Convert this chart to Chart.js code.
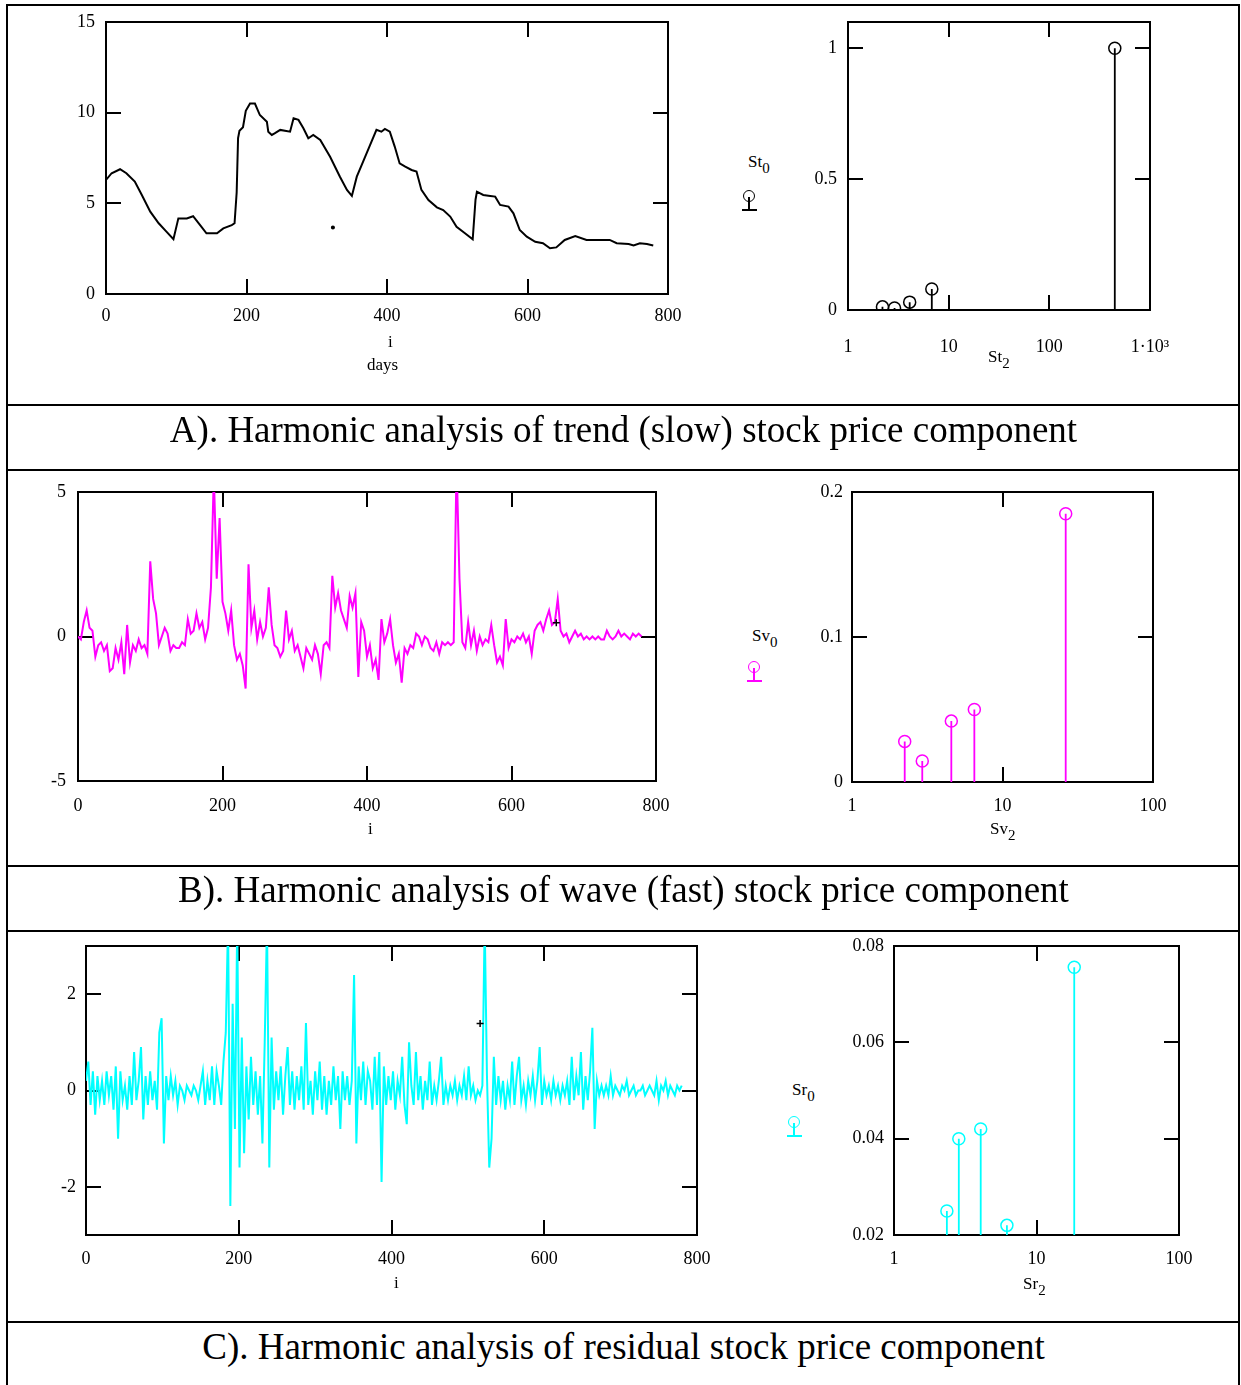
<!DOCTYPE html>
<html>
<head>
<meta charset="utf-8">
<script src="https://cdn.jsdelivr.net/npm/chart.js@4.4.1/dist/chart.umd.min.js"></script>
<style>
  body { margin:0; background:#fff; width:1241px; height:1385px; position:relative; overflow:hidden; font-family:"Liberation Serif", serif; color:#000; }
  .ln { position:absolute; background:#000; }
  .box { position:absolute; }
  .lab { position:absolute; font-size:17px; line-height:1; white-space:nowrap; }
  .lab sub { font-size:15px; vertical-align:-6px; line-height:0; }
  .cap { position:absolute; left:7px; width:1233px; text-align:center; font-size:37px; line-height:1; white-space:nowrap; }
  .sym { position:absolute; width:17px; height:22px; }
  .sym .c { position:absolute; left:1px; top:0; width:10px; height:10px; border:1.5px solid; border-radius:50%; }
  .sym .s { position:absolute; left:6px; top:7px; width:1.6px; height:12px; }
  .sym .b { position:absolute; left:0; top:19px; width:15px; height:1.6px; }
</style>
</head>
<body>
<!-- table rules -->
<div class="ln" style="left:7px;top:4px;width:1233px;height:2px"></div>
<div class="ln" style="left:6px;top:4px;width:2px;height:1381px"></div>
<div class="ln" style="left:1238px;top:4px;width:2px;height:1381px"></div>
<div class="ln" style="left:7px;top:404px;width:1233px;height:2px"></div>
<div class="ln" style="left:7px;top:469px;width:1233px;height:2px"></div>
<div class="ln" style="left:7px;top:865px;width:1233px;height:2px"></div>
<div class="ln" style="left:7px;top:930px;width:1233px;height:2px"></div>
<div class="ln" style="left:7px;top:1321px;width:1233px;height:2px"></div>

<div class="box" style="left:46px;top:-28px;width:692px;height:382px"><canvas id="trendChart"></canvas></div>
<div class="box" style="left:788px;top:-28px;width:432px;height:398px"><canvas id="trendSpec"></canvas></div>
<div class="box" style="left:18px;top:442px;width:708px;height:399px"><canvas id="waveChart"></canvas></div>
<div class="box" style="left:792px;top:442px;width:431px;height:400px"><canvas id="waveSpec"></canvas></div>
<div class="box" style="left:26px;top:896px;width:741px;height:399px"><canvas id="residChart"></canvas></div>
<div class="box" style="left:834px;top:896px;width:415px;height:399px"><canvas id="residSpec"></canvas></div>

<!-- axis captions -->
<div class="lab" style="left:388px;top:333px">i</div>
<div class="lab" style="left:367px;top:356px">days</div>
<div class="lab" style="left:988px;top:348px">St<sub>2</sub></div>
<div class="lab" style="left:748px;top:153px">St<sub>0</sub></div>
<div class="sym" style="left:742px;top:190px;color:#000"><div class="c"></div><div class="s" style="background:#000"></div><div class="b" style="background:#000"></div></div>

<div class="lab" style="left:368px;top:820px">i</div>
<div class="lab" style="left:990px;top:820px">Sv<sub>2</sub></div>
<div class="lab" style="left:752px;top:627px">Sv<sub>0</sub></div>
<div class="sym" style="left:747px;top:661px;color:#ff00ff"><div class="c"></div><div class="s" style="background:#ff00ff"></div><div class="b" style="background:#ff00ff"></div></div>

<div class="lab" style="left:394px;top:1274px">i</div>
<div class="lab" style="left:1023px;top:1275px">Sr<sub>2</sub></div>
<div class="lab" style="left:792px;top:1081px">Sr<sub>0</sub></div>
<div class="sym" style="left:787px;top:1116px;color:#00ffff"><div class="c"></div><div class="s" style="background:#00ffff"></div><div class="b" style="background:#00ffff"></div></div>

<div class="cap" style="top:411px">A). Harmonic analysis of trend (slow) stock price component</div>
<div class="cap" style="top:871px">B). Harmonic analysis of wave (fast) stock price component</div>
<div class="cap" style="top:1328px">C). Harmonic analysis of residual stock price component</div>

<script>
// trend (slow) component
const trendDays = [0,8,20,29,41,51,63,75,86,96,103,115,124,134,143,158,167,179,183,186,188,190,195,199,205,212,
  219,229,231,236,240,248,262,267,274,281,288,295,305,319,333,343,350,357,366,376,385,392,397,404,
  411,418,426,435,442,449,459,471,480,490,499,511,522,526,528,537,547,554,561,573,580,589,599,
  611,622,632,641,653,668,684,717,727,744,751,760,770,779];
const trendVals = [6.29,6.66,6.88,6.66,6.20,5.46,4.54,3.90,3.44,3.02,4.17,4.17,4.29,3.80,3.35,3.35,3.62,3.80,3.90,5.6,8.6,9.0,9.2,10.1,10.5,10.5,
  9.87,9.50,8.95,8.77,8.86,9.05,8.95,9.69,9.60,9.14,8.59,8.77,8.49,7.57,6.47,5.74,5.41,6.47,7.30,8.22,9.05,8.95,9.10,8.95,
  8.13,7.20,7.02,6.84,6.75,5.74,5.18,4.78,4.63,4.27,3.71,3.35,3.02,5.20,5.64,5.46,5.41,5.37,4.91,4.82,4.45,3.53,3.16,
  2.88,2.80,2.52,2.57,2.98,3.20,2.98,2.98,2.80,2.76,2.68,2.80,2.76,2.68];
const trendMark = [{x:323, y:3.67}];

// wave (fast) component, one value every 4 days
const waveStep = 4;
const waveVals = [
  0.0,-0.1,0.5,0.9,0.3,0.2,-0.7,-0.3,-0.2,-0.5,
  -0.3,-1.2,-1.1,-0.4,-0.8,-0.2,-1.3,0.4,-0.9,-0.3,
  -0.5,-0.1,-0.4,-0.3,-0.6,2.6,1.3,0.8,-0.3,0.0,
  0.3,0.1,-0.5,-0.3,-0.4,-0.4,-0.2,-0.3,0.6,0.1,
  0.2,0.8,0.3,0.5,-0.1,0.3,1.7,5.6,2.0,4.1,
  1.2,0.8,0.2,0.9,-0.3,-0.8,-0.6,-1.0,-1.8,2.5,
  0.3,0.9,-0.1,0.5,0.0,0.3,1.7,0.4,-0.3,-0.4,
  -0.7,-0.5,0.9,-0.1,0.2,-0.5,-0.3,-0.7,-1.1,-0.4,
  -0.6,-0.8,-0.3,-0.6,-1.3,-0.3,-0.2,-0.4,2.1,1.0,
  1.5,0.9,0.6,0.3,1.4,1.0,1.5,-1.4,0.5,0.2,
  -0.7,-0.3,-1.1,-0.8,-1.5,0.6,-0.2,0.1,0.6,-0.3,
  -0.9,-0.6,-1.6,-0.4,-0.6,-0.3,-0.4,0.1,0.0,-0.3,
  0.0,-0.1,-0.4,-0.5,-0.2,-0.6,-0.2,-0.3,-0.2,-0.3,
  -0.2,6.0,2.0,-0.2,-0.4,0.5,-0.3,0.2,-0.5,0.0,
  -0.3,-0.1,-0.2,0.4,-0.3,-0.9,-0.7,-1.0,0.6,-0.4,
  -0.1,-0.2,0.0,-0.1,0.1,-0.2,0.0,-0.6,0.2,0.4,
  0.5,0.2,0.6,0.9,0.4,0.5,1.3,0.2,0.0,0.1,
  -0.2,0.0,0.2,0.0,0.1,-0.1,0.0,-0.1,0.0,-0.1,
  0.0,-0.1,-0.1,0.2,0.0,-0.1,0.0,0.2,0.0,0.1,
  0.0,-0.1,0.1,0.0,0.1,0.0];
const waveMark = [{x:662, y:0.48}];

// residual component, one value every 3 days
const residStep = 3;
const residVals = [
  0.2,0.6,-0.3,0.4,-0.5,0.3,-0.2,0.2,-0.3,0.4,
  -0.1,0.3,-0.4,0.5,-1.0,0.4,-0.2,0.1,-0.4,0.3,
  -0.3,0.8,-0.2,0.2,0.9,-0.6,0.3,-0.3,0.4,-0.2,
  0.2,-0.4,1.2,1.5,-1.1,0.3,-0.2,0.3,-0.1,0.2,
  -0.3,0.1,0.0,-0.2,0.1,0.0,-0.1,0.1,0.0,-0.2,
  0.1,0.4,-0.3,0.2,-0.2,0.5,-0.3,0.4,0.1,-0.3,
  0.6,1.2,3.5,-2.4,1.8,-0.8,3.5,-1.6,1.1,-1.3,
  0.5,-0.6,0.7,-0.3,0.4,-0.5,0.3,-1.1,1.0,3.5,
  -1.6,1.1,-0.4,0.4,-0.2,0.5,-0.5,0.3,0.9,-0.3,
  0.4,-0.4,0.3,-0.2,0.5,-0.4,1.4,-0.3,0.2,-0.5,
  0.4,-0.2,0.6,-0.4,0.3,-0.5,0.2,-0.3,0.5,-0.2,
  0.3,-0.8,0.4,-0.2,0.3,-0.3,0.2,2.4,-1.1,0.5,
  -0.2,0.6,-0.3,0.4,0.2,-0.4,0.7,-0.3,0.8,-1.9,
  0.5,-0.3,0.3,-0.2,0.4,-0.4,0.2,-0.1,0.7,-0.3,
  -0.7,1.0,0.1,-0.3,0.8,-0.2,0.3,-0.4,0.2,-0.2,
  0.6,-0.3,0.1,-0.2,0.2,0.7,-0.3,0.1,-0.2,0.1,
  -0.1,0.2,-0.2,0.1,-0.1,0.3,-0.2,0.5,-0.1,0.1,
  -0.2,0.0,-0.1,0.1,3.5,0.3,-1.6,-1.0,0.7,-0.3,
  0.3,-0.2,0.2,-0.4,0.1,-0.2,0.6,-0.3,0.3,0.7,
  -0.2,0.1,-0.3,0.2,-0.1,0.3,-0.2,0.2,0.9,-0.3,
  0.2,-0.1,0.1,-0.2,0.2,-0.1,0.1,-0.2,0.1,-0.1,
  0.2,-0.3,0.7,-0.2,0.3,-0.1,0.8,-0.4,0.3,-0.2,
  0.4,1.3,-0.8,0.2,-0.1,0.1,-0.1,0.1,-0.1,0.3,
  -0.1,0.1,0.0,-0.1,0.1,0.0,0.2,-0.1,0.0,0.1,
  -0.1,0.0,0.0,0.1,-0.1,0.0,0.1,0.0,-0.1,0.2,
  -0.2,0.1,0.0,0.2,-0.1,0.1,0.0,-0.1,0.1,0.0,
  0.1];
const residMark = [{x:516, y:1.39}];

// spectra: periods (x, log) and amplitudes (y)
const stPeriod = [2.2, 2.9, 4.1, 6.8, 447];
const stAmp    = [0.012, 0.008, 0.03, 0.08, 1.0];
const svPeriod = [2.24, 2.93, 4.57, 6.5, 26.3];
const svAmp    = [0.028, 0.0145, 0.042, 0.050, 0.185];
const srPeriod = [2.35, 2.85, 4.06, 6.2, 18.4];
const srAmp    = [0.025, 0.040, 0.042, 0.022, 0.0756];

// tick labels
const dayTicks = [0, 200, 400, 600, 800];
const trendTicks = [0, 5, 10, 15];
const waveTicks = [-5, 0, 5];
const residTicks = [-2, 0, 2];
const stTicksX = [1, 10, 100, 1000];
const stTicksY = [0, 0.5, 1];
const svTicksX = [1, 10, 100];
const svTicksY = [0, 0.1, 0.2];
const srTicksX = [1, 10, 100];
const srTicksY = [0.02, 0.04, 0.06, 0.08];

const INK = '#000';
const TICK_FONT = { family: 'Liberation Serif', size: 18 };
const MAGENTA = '#ff00ff';
const CYAN = '#00ffff';

function fixedTicks(vals) {
  return scale => { scale.ticks = vals.map(v => ({ value: v })); };
}

function axis(pos, type, min, max, vals) {
  return {
    type: type, position: pos, min: min, max: max,
    afterBuildTicks: fixedTicks(vals),
    grid: { drawOnChartArea: false, drawTicks: true, tickLength: -15, color: INK, lineWidth: 2 },
    border: { display: true, color: INK, width: 2 }
  };
}

function makeScales(o) {
  const x = axis('bottom', o.xType, o.xMin, o.xMax, o.xTicks);
  x.ticks = { padding: o.xPad, maxRotation: 0, autoSkip: false, color: INK, font: TICK_FONT,
              callback: o.xFmt || (v => String(v)) };
  x.afterFit = s => { s.height = 60; };
  const x2 = axis('top', o.xType, o.xMin, o.xMax, o.xTicks);
  x2.ticks = { display: false };
  x2.afterFit = s => { s.height = 0; };
  const y = axis('left', 'linear', o.yMin, o.yMax, o.yTicks);
  y.ticks = { padding: o.yPad, autoSkip: false, color: INK, font: TICK_FONT, callback: v => String(v) };
  y.afterFit = s => { s.width = 60; };
  const y2 = axis('right', 'linear', o.yMin, o.yMax, o.yTicks);
  y2.ticks = { display: false };
  y2.afterFit = s => { s.width = 0; };
  return { x: x, x2: x2, y: y, y2: y2 };
}

// padding kept larger than any label overflow so the plot box sits where we put it
function baseOptions(scales) {
  return {
    responsive: true, maintainAspectRatio: false, animation: false, events: [],
    layout: { padding: { top: 50, right: 70, left: 0, bottom: 0 } },
    plugins: { legend: { display: false }, tooltip: { enabled: false } },
    scales: scales
  };
}

function seriesChart(id, xs, ys, color, marks, markStyle, yMin, yMax, yTicks, yPad, xPad) {
  const pts = ys.map((v, i) => ({ x: xs[i], y: v }));
  new Chart(document.getElementById(id), {
    type: 'scatter',
    data: { datasets: [
      { data: marks, showLine: false, pointStyle: markStyle, pointRadius: markStyle === 'cross' ? 3.5 : 1.3,
        borderColor: INK, backgroundColor: INK, borderWidth: 1.5 },
      { data: pts, showLine: true, pointRadius: 0, borderColor: color, borderWidth: 2, tension: 0 }
    ] },
    options: baseOptions(makeScales({ xType: 'linear', xMin: 0, xMax: 800, xTicks: dayTicks, xPad: xPad,
                                      yMin: yMin, yMax: yMax, yTicks: yTicks, yPad: yPad }))
  });
}

function stemChart(id, periods, amps, color, xMax, xTicks, yMin, yMax, yTicks, yPad, xPad) {
  const stems = [];
  periods.forEach((p, i) => {
    stems.push({ x: p, y: yMin }, { x: p, y: amps[i] }, { x: p, y: null });
  });
  const heads = periods.map((p, i) => ({ x: p, y: amps[i] }));
  new Chart(document.getElementById(id), {
    type: 'scatter',
    data: { datasets: [
      { data: heads, showLine: false, pointStyle: 'circle', pointRadius: 6, borderColor: color,
        borderWidth: 1.5, backgroundColor: 'rgba(0,0,0,0)' },
      { data: stems, showLine: true, spanGaps: false, pointRadius: 0, borderColor: color, borderWidth: 1.8 }
    ] },
    options: baseOptions(makeScales({ xType: 'logarithmic', xMin: 1, xMax: xMax, xTicks: xTicks, xPad: xPad,
                                      xFmt: v => (v === 1000 ? '1\u00b710\u00b3' : String(v)),
                                      yMin: yMin, yMax: yMax, yTicks: yTicks, yPad: yPad }))
  });
}

seriesChart('trendChart', trendDays, trendVals, INK, trendMark, 'circle', 0, 15, trendTicks, 26, 26);
seriesChart('waveChart', waveVals.map((v, i) => i * waveStep), waveVals, MAGENTA, waveMark, 'cross', -5, 5, waveTicks, 27, 29);
seriesChart('residChart', residVals.map((v, i) => i * residStep), residVals, CYAN, residMark, 'cross', -3, 3, residTicks, 25, 28);

stemChart('trendSpec', stPeriod, stAmp, INK, 1000, stTicksX, 0, 1.1, stTicksY, 26, 41);
stemChart('waveSpec', svPeriod, svAmp, MAGENTA, 100, svTicksX, 0, 0.2, svTicksY, 24, 28);
stemChart('residSpec', srPeriod, srAmp, CYAN, 100, srTicksX, 0.02, 0.08, srTicksY, 25, 28);
</script>
</body>
</html>
